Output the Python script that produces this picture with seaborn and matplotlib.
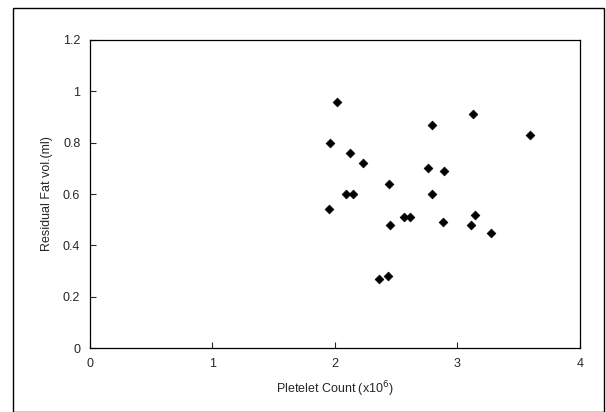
import numpy as np
import pandas as pd
import matplotlib
matplotlib.use("Agg")
import matplotlib.pyplot as plt
import seaborn as sns
from matplotlib.patches import Rectangle

# values
platelet = [1.95, 1.96, 2.02, 2.09, 2.12, 2.15, 2.23, 2.36, 2.43, 2.44, 2.45, 2.56,
            2.61, 2.76, 2.79, 2.79, 2.88, 2.89, 3.11, 3.13, 3.14, 3.27, 3.59]
fat_vol = [0.54, 0.80, 0.96, 0.60, 0.76, 0.60, 0.72, 0.27, 0.28, 0.64, 0.48, 0.51,
           0.51, 0.70, 0.87, 0.60, 0.49, 0.69, 0.48, 0.91, 0.52, 0.45, 0.83]
x_ticks = [0, 1, 2, 3, 4]
y_ticks = [0, 0.2, 0.4, 0.6, 0.8, 1, 1.2]
y_tick_labels = ["0", "0.2", "0.4", "0.6", "0.8", "1", "1.2"]

df = pd.DataFrame({"platelet": platelet, "fat": fat_vol})

sns.set_style("white")
plt.rcParams["font.family"] = ["Liberation Sans", "DejaVu Sans"]

fig = plt.figure(figsize=(6.06, 4.12), dpi=100)
ax = fig.add_axes([0.1485, 0.155, 0.8085, 0.748])

sns.scatterplot(data=df, x="platelet", y="fat", marker="D", color="black",
                s=20, edgecolor="black", linewidth=0.5, ax=ax)

ax.set_xlim(0, 4)
ax.set_ylim(0, 1.2)
ax.set_xticks(x_ticks)
ax.set_yticks(y_ticks)
ax.set_yticklabels(y_tick_labels)
ax.tick_params(axis="both", direction="in", length=4, width=0.8,
               labelsize=9, pad=7, bottom=True, left=True)
for side in ["left", "bottom", "top", "right"]:
    ax.spines[side].set_color("black")
    ax.spines[side].set_linewidth(0.9)

ax.set_xlabel("Pletelet Count (x10$^6$)", fontsize=9, labelpad=7)
ax.set_ylabel("Residual Fat vol.(ml)", fontsize=9, labelpad=7)

# outer frame around the whole picture
fig.patches.append(Rectangle((0.022, 0.0), 0.975, 0.98, transform=fig.transFigure,
                             fill=False, edgecolor="black", linewidth=1.0))

fig.savefig("out.png", dpi=100)
